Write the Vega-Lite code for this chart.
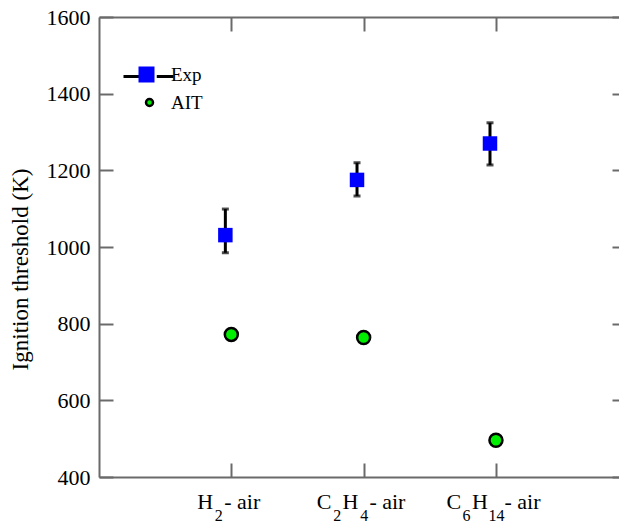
{
  "$schema": "https://vega.github.io/schema/vega-lite/v6.json",
  "width": 520,
  "height": 460,
  "autosize": "none",
  "padding": {"left": 99, "top": 17, "right": 0, "bottom": 45},
  "background": "white",
  "config": {
    "view": {"stroke": null},
    "font": "Liberation Serif",
    "axis": {
      "grid": false,
      "domainColor": "#6a6a6a",
      "domainWidth": 2,
      "tickColor": "#6a6a6a",
      "tickWidth": 2,
      "labelFont": "Liberation Serif",
      "labelFontSize": 22,
      "labelColor": "black",
      "labelOverlap": false,
      "labelFlush": false,
      "labelBound": false,
      "titleFont": "Liberation Serif",
      "titleFontSize": 23,
      "titleFontWeight": "normal",
      "titleColor": "black"
    },
    "legend": {
      "labelFont": "Liberation Serif",
      "labelFontSize": 19,
      "labelColor": "black",
      "symbolOpacity": 1
    }
  },
  "data": {
    "values": [
      {"fuel": "H2", "series": "Exp", "x": 0.955, "y": 1031, "lo": 985, "hi": 1099},
      {"fuel": "C2H4", "series": "Exp", "x": 1.95, "y": 1175, "lo": 1133, "hi": 1220},
      {"fuel": "C6H14", "series": "Exp", "x": 2.955, "y": 1270, "lo": 1214, "hi": 1324},
      {"fuel": "H2", "series": "AIT", "x": 1.0, "y": 772},
      {"fuel": "C2H4", "series": "AIT", "x": 2.0, "y": 764},
      {"fuel": "C6H14", "series": "AIT", "x": 3.0, "y": 496}
    ]
  },
  "resolve": {"axis": {"x": "independent", "y": "independent"}},
  "layer": [
    {
      "transform": [{"filter": "datum.series === 'Exp'"}],
      "mark": {"type": "rule", "strokeWidth": 3},
      "encoding": {
        "x": {
          "field": "x", "type": "quantitative",
          "scale": {"domain": [0, 3.93], "nice": false, "zero": false},
          "axis": {
            "orient": "bottom", "values": [1, 2, 3], "title": null,
            "tickSize": -14, "labelPadding": 45, "labelBaseline": "alphabetic",
            "labelFont": "Liberation Serif", "labelFontSize": 22, "labelOffset": -3,
            "labelExpr": "datum.value == 1 ? 'H\u2002- air' : datum.value == 2 ? 'C\u2002H\u2002- air' : 'C\u2002H\u2002\u2005- air'"
          }
        },
        "y": {
          "field": "lo", "type": "quantitative",
          "scale": {"domain": [400, 1600], "nice": false, "zero": false},
          "axis": {
            "orient": "left", "values": [400, 600, 800, 1000, 1200, 1400, 1600], "format": "d",
            "labelFont": "Liberation Serif", "labelFontSize": 22,
            "title": "Ignition threshold (K)", "tickSize": -14, "labelPadding": 23, "titlePadding": 14, "titleY": 252
          }
        },
        "y2": {"field": "hi"},
        "stroke": {
          "field": "series", "type": "nominal",
          "scale": {"range": ["black"]},
          "legend": {
            "orient": "none", "legendX": 23, "legendY": 33, "title": null,
            "symbolType": "M-1,0H-0.33M0.33,0H1", "symbolSize": 2500, "symbolStrokeWidth": 3,
            "labelOpacity": 0
          }
        }
      }
    },
    {
      "transform": [{"filter": "datum.series === 'Exp'"}],
      "mark": {"type": "tick", "color": "black", "thickness": 3, "size": 7, "orient": "horizontal"},
      "encoding": {
        "x": {"field": "x", "type": "quantitative", "axis": {"orient": "top", "values": [1, 2, 3], "labels": false, "title": null, "tickSize": -14}},
        "y": {"field": "lo", "type": "quantitative", "axis": {"orient": "right", "values": [400, 600, 800, 1000, 1200, 1400, 1600], "labels": false, "domain": false, "title": null, "tickSize": -7}}
      }
    },
    {
      "transform": [{"filter": "datum.series === 'Exp'"}],
      "mark": {"type": "tick", "color": "black", "thickness": 3, "size": 7, "orient": "horizontal"},
      "encoding": {
        "x": {
          "field": "x", "type": "quantitative",
          "axis": {
            "orient": "bottom", "values": [1, 2, 3], "title": null, "ticks": false, "tickSize": 0, "domain": false,
            "labelFont": "Liberation Serif", "labelFontSize": 16, "labelPadding": 43, "labelBaseline": "alphabetic",
            "labelExpr": "datum.value == 1 ? '2' : datum.value == 2 ? '2' : '6'",
            "labelOffset": {"condition": [{"test": "datum.value == 1", "value": -13}, {"test": "datum.value == 2", "value": -27}], "value": -30}
          }
        },
        "y": {"field": "hi", "type": "quantitative", "axis": null}
      }
    },
    {
      "transform": [{"filter": "datum.series === 'Exp'"}],
      "mark": {"type": "square", "filled": true, "opacity": 1, "size": 210, "strokeWidth": 0},
      "encoding": {
        "x": {
          "field": "x", "type": "quantitative",
          "axis": {
            "orient": "bottom", "values": [2, 3], "title": null, "ticks": false, "tickSize": 0, "domain": false,
            "labelFont": "Liberation Serif", "labelFontSize": 16, "labelPadding": 43, "labelBaseline": "alphabetic",
            "labelExpr": "datum.value == 2 ? '4' : '14'",
            "labelOffset": 0
          }
        },
        "y": {"field": "y", "type": "quantitative", "axis": null},
        "fill": {
          "field": "series", "type": "nominal",
          "scale": {"domain": ["Exp"], "range": ["#0000ff"]},
          "legend": {
            "orient": "none", "legendX": 38, "legendY": 48, "title": null,
            "labelOffset": 15, "symbolType": "square", "symbolSize": 256, "symbolStrokeWidth": 0
          }
        }
      }
    },
    {
      "transform": [{"filter": "datum.series === 'AIT'"}],
      "mark": {"type": "circle", "opacity": 1, "size": 169, "stroke": "black", "strokeWidth": 2.5},
      "encoding": {
        "x": {"field": "x", "type": "quantitative", "axis": null},
        "y": {"field": "y", "type": "quantitative", "axis": null},
        "color": {
          "field": "series", "type": "nominal",
          "scale": {"domain": ["AIT"], "range": ["#00ee00"]},
          "legend": {
            "orient": "none", "legendX": 41, "legendY": 76, "title": null,
            "labelOffset": 12, "symbolType": "circle", "symbolSize": 49,
            "symbolStrokeColor": "black", "symbolStrokeWidth": 2.5
          }
        }
      }
    }
  ]
}
